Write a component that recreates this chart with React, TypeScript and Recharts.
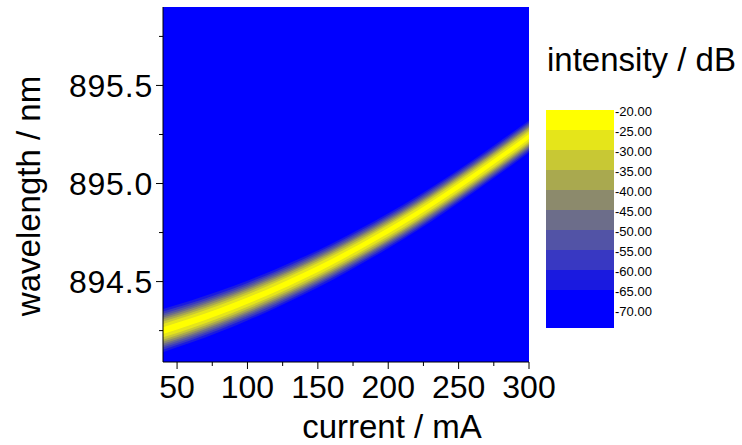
import React from 'react';
import { ComposedChart, Area, XAxis, YAxis, CartesianGrid, Legend } from 'recharts';

// ---- data ----
const currents = [40, 60, 80, 100, 120, 140, 160, 180, 200, 220, 240, 260, 280, 300]; // mA
const peakWavelengths = [894.25, 894.296, 894.347, 894.403, 894.464, 894.53, 894.601, 894.678, 894.759, 894.845, 894.938, 895.035, 895.136, 895.24]; // nm
// relative broadening of the line (wider / blurrier at low current)
const lineBroadening = [1.22, 1.19, 1.16, 1.13, 1.1, 1.07, 1.04, 1.01, 0.99, 0.97, 0.95, 0.93, 0.92, 0.91];

// colour scale (dB levels) – top to bottom of the colour bar
const levelLabels = [-20, -25, -30, -35, -40, -45, -50, -55, -60, -65, -70];
const levelColors = ['#ffff00', '#e5e51a', '#c8c834', '#a9a94f', '#8c8a6c', '#6c6d8a', '#5253a6', '#3838c2', '#1a1ae0', '#0000ff'];
// spectral half-width (nm) of the line at each contour level, from -20 dB (core) down to -65 dB (halo)
const levelHalfWidths = [0.014, 0.028, 0.038, 0.047, 0.055, 0.063, 0.071, 0.08, 0.09];

const xTicks = [50, 75, 100, 125, 150, 175, 200, 225, 250, 275, 300];
const yTicks = [894.25, 894.5, 894.75, 895.0, 895.25, 895.5, 895.75];
const xDomain = [40, 300];
const yDomain = [894.09, 895.9];

// table for the library: one range per contour level
const tableData = currents.map((c, i) => {
  const row: any = { current: c };
  levelHalfWidths.forEach((hw, k) => {
    const w = hw * lineBroadening[i];
    row['b' + k] = [peakWavelengths[i] - w, peakWavelengths[i] + w];
  });
  return row;
});

const FONT = '"Liberation Sans", Arial, Helvetica, sans-serif';

const XTick = (props: any) => {
  const { x, y, payload } = props;
  const v = payload.value;
  const major = v % 50 === 0;
  return (
    <g>
      <line x1={x} x2={x} y1={y} y2={y + (major ? 7 : 4)} stroke="#000" strokeWidth={1} />
      {major && (
        <text x={x} y={y + 36} textAnchor="middle" fontSize={32} fontFamily={FONT} fill="#000">
          {v}
        </text>
      )}
    </g>
  );
};

const YTick = (props: any) => {
  const { x, y, payload } = props;
  const v = payload.value;
  const major = Math.abs(v * 2 - Math.round(v * 2)) < 1e-6;
  return (
    <g>
      <line x1={x} x2={x - (major ? 7 : 4)} y1={y} y2={y} stroke="#000" strokeWidth={1} />
      {major && (
        <text x={x - 10} y={y + 11.5} textAnchor="end" fontSize={32} fontFamily={FONT} fill="#000" letterSpacing={0.8}>
          {v.toFixed(1)}
        </text>
      )}
    </g>
  );
};

const RightTick = (props: any) => {
  const { x, y } = props;
  return <line x1={x} x2={x + 4} y1={y} y2={y} stroke="#999" strokeWidth={1} />;
};

const ColorBar = () => {
  const top = 70;
  const bands = levelColors.map((col, i) => {
    const y0 = top + i * 20;
    const h = i === levelColors.length - 1 ? 38 : 20;
    return <rect key={i} x={16} y={y0} width={68} height={h} fill={col} />;
  });
  const labels = levelLabels.map((lv, i) => (
    <text key={i} x={85} y={top + 6 + i * 20} fontSize={13} fontFamily={FONT} fill="#000">
      {lv.toFixed(2)}
    </text>
  ));
  return (
    <svg width={212} height={300} style={{ display: 'block', overflow: 'visible' }}>
      <text x={17} y={31} fontSize={33} fontFamily={FONT} fill="#000">intensity / dB</text>
      {bands}
      {labels}
    </svg>
  );
};

export default function App() {
  return (
    <div style={{ position: 'absolute', left: 0, top: 0, width: 742, height: 445, background: '#fff' }}>
      <ComposedChart
        width={742}
        height={445}
        data={tableData}
        margin={{ top: 7, right: 213, bottom: 0, left: 0 }}
      >
        <CartesianGrid horizontal={false} vertical={false} fill="#0000ff" fillOpacity={1} stroke="none" />
        <XAxis
          dataKey="current"
          type="number"
          domain={xDomain}
          ticks={xTicks}
          allowDataOverflow
          height={83}
          tickSize={0}
          tickMargin={0}
          tickLine={false}
          axisLine={{ stroke: '#000', strokeWidth: 1 }}
          tick={<XTick />}
          interval={0}
        />
        <XAxis xAxisId="top" orientation="top" type="number" domain={xDomain} height={0} tick={false} tickLine={false} axisLine={{ stroke: '#222', strokeWidth: 1 }} />
        <YAxis
          type="number"
          domain={yDomain}
          ticks={yTicks}
          allowDataOverflow
          width={163}
          tickSize={0}
          tickMargin={0}
          tickLine={false}
          axisLine={{ stroke: '#000', strokeWidth: 1 }}
          tick={<YTick />}
          interval={0}
        />
        <YAxis
          yAxisId="right"
          orientation="right"
          type="number"
          domain={yDomain}
          ticks={yTicks}
          width={0}
          tickSize={0}
          tickMargin={0}
          tickLine={false}
          tick={<RightTick />}
          interval={0}
          axisLine={{ stroke: '#000', strokeWidth: 1 }}
        />
        {levelHalfWidths
          .map((_, k) => k)
          .reverse()
          .map((k) => (
            <Area
              key={k}
              dataKey={'b' + k}
              type="monotone"
              fill={levelColors[k]}
              fillOpacity={1}
              stroke="none"
              dot={false}
              activeDot={false}
              isAnimationActive={false}
            />
          ))}
        <Legend
          layout="vertical"
          align="center"
          verticalAlign="middle"
          content={() => <ColorBar />}
          wrapperStyle={{ left: 530, top: 40, width: 212, height: 300 }}
        />
        <text x={392} y={438} textAnchor="middle" fontSize={33} fontFamily={FONT} fill="#000">
          current / mA
        </text>
        <text x={40} y={196} textAnchor="middle" fontSize={33} fontFamily={FONT} fill="#000" transform="rotate(-90, 40, 196)">
          wavelength / nm
        </text>
      </ComposedChart>
    </div>
  );
}
